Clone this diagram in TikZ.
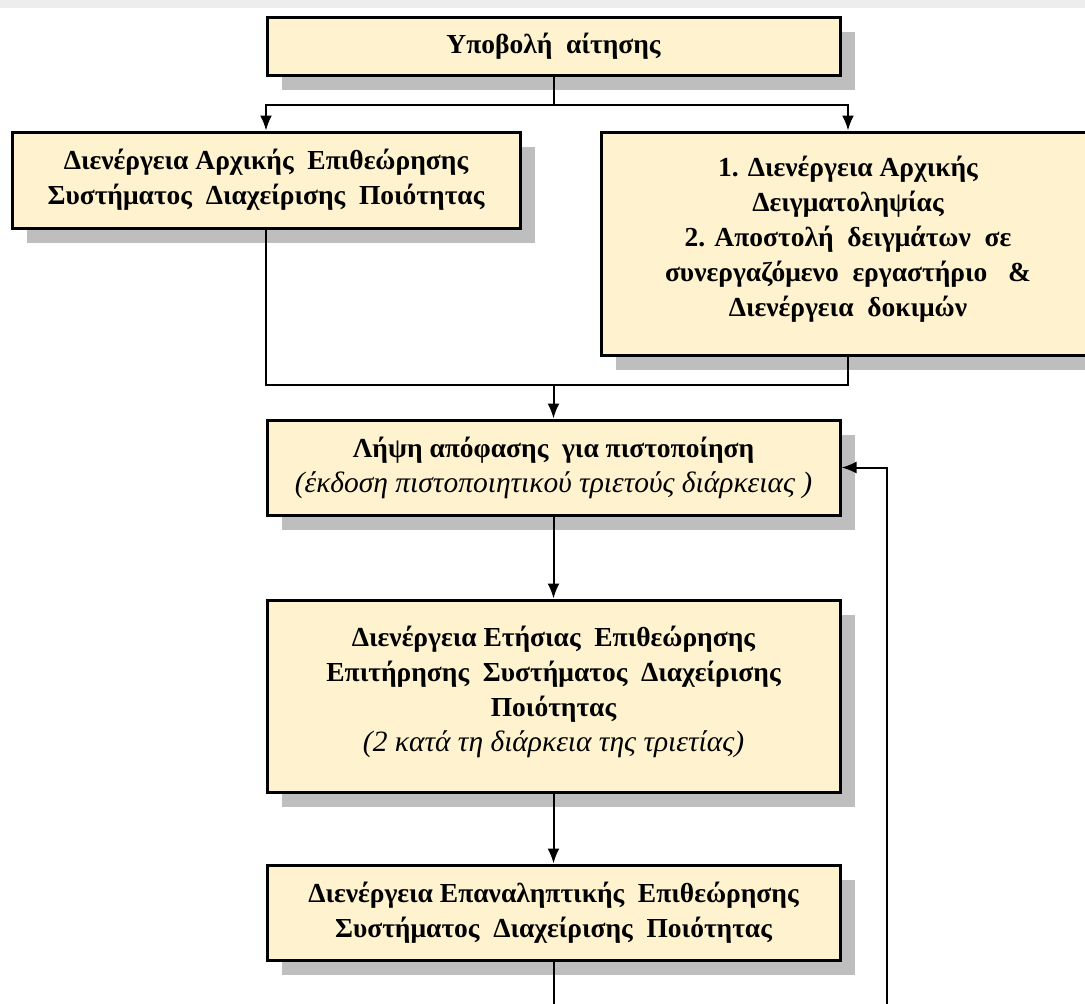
\documentclass[tikz,border=0pt]{standalone}
\usepackage{fontspec}
\setmainfont{Liberation Serif}
\usepackage{xcolor}
\usepackage{tikz}
\tikzset{>=latex}
\usetikzlibrary{arrows.meta, shadows, calc}
\definecolor{boxfill}{HTML}{FFF3CF}
\definecolor{boxshadow}{HTML}{BEBEBE}
\newcommand{\notetext}[1]{{\normalfont\itshape\fontsize{29.5}{35}\selectfont #1}}
\tikzset{
    stepbox/.style={draw=black, line width=3pt, fill=boxfill, align=center, inner sep=0pt,
        font=\fontsize{27.5}{35}\selectfont\bfseries,
        drop shadow={shadow xshift=15pt, shadow yshift=-15pt, fill=boxshadow, opacity=1}},
    flow/.style={line width=2pt, -{Latex[length=15pt,width=12pt]}},
    link/.style={line width=2pt},
}
\def\pagewidth{1085}
\def\pageheight{1004}
\def\midx{553.5}
\def\mainwidth{573}
\def\splity{105}
\def\mergey{385}
\def\loopx{886.5}

\begin{document}
\begin{tikzpicture}[x=1pt, y=-1pt]

\useasboundingbox (0,0) rectangle (\pagewidth,\pageheight);
\clip (0,0) rectangle (\pagewidth,\pageheight);

% faint band on top
\fill[black!7] (0,0) rectangle (\pagewidth,8);

% Boxes
\node[stepbox, minimum width=\mainwidth pt, minimum height=58pt] (submit) at (\midx, 46) {Υποβολή \ αίτησης};

\node[stepbox, minimum width=508pt, minimum height=96pt] (initaudit) at (266, 180)
    {Διενέργεια Αρχικής \ Επιθεώρησης\\Συστήματος \ Διαχείρισης \ Ποιότητας};

\node[stepbox, minimum width=494pt, minimum height=223pt] (sampling) at (848, 243.5)
    {1. Διενέργεια Αρχικής\\Δειγματοληψίας\\2. Αποστολή \ δειγμάτων \ σε\\συνεργαζόμενο \ εργαστήριο \ \ \&\\Διενέργεια \ δοκιμών\\[-21pt]};

\node[stepbox, minimum width=\mainwidth pt, minimum height=95pt] (decision) at (\midx, 467.5)
    {Λήψη απόφασης \ για πιστοποίηση\\\notetext{(έκδοση πιστοποιητικού τριετούς διάρκειας )}};

\node[stepbox, minimum width=\mainwidth pt, minimum height=192pt] (annual) at (\midx, 696)
    {Διενέργεια Ετήσιας \ Επιθεώρησης\\Επιτήρησης \ Συστήματος \ Διαχείρισης\\Ποιότητας\\\notetext{(2 κατά τη διάρκεια της τριετίας)}\\[-21pt]};

\node[stepbox, minimum width=\mainwidth pt, minimum height=95pt] (repeat) at (\midx, 912.5)
    {Διενέργεια Επαναληπτικής \ Επιθεώρησης\\Συστήματος \ Διαχείρισης \ Ποιότητας};

% Connectors
\coordinate[](split) at (\midx, \splity) {};
\coordinate[](merge) at (\midx, \mergey) {};
\coordinate[](bottom_end) at (\midx, \pageheight + 10) {};
\coordinate[](loop_start) at (\loopx, \pageheight + 10) {};

\draw[link] (submit.south) -- (split);
\draw[flow] (split) -| (initaudit.north);
\draw[flow] (split) -| (sampling.north);

\draw[link] (initaudit.south) |- (merge);
\draw[link] (sampling.south) |- (merge);
\draw[flow] (merge) -- (decision.north);

\draw[flow] (decision.south) -- (annual.north);
\draw[flow] (annual.south) -- (repeat.north);
\draw[link] (repeat.south) -- (bottom_end);

\draw[flow] (loop_start) |- (decision.east);

\end{tikzpicture}
\end{document}
